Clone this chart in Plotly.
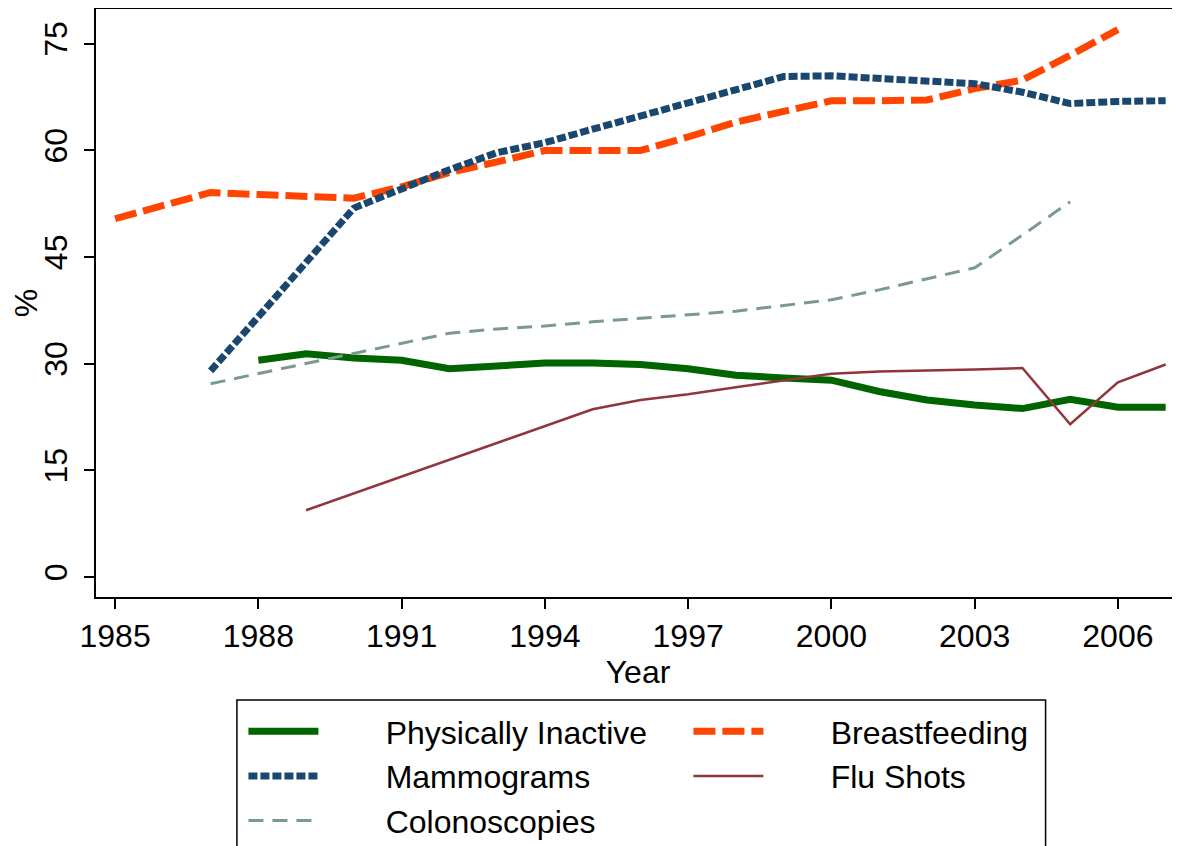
import plotly.graph_objects as go

# ── Data ──────────────────────────────────────────────────────────────────────

inactive_years = [1988, 1989, 1990, 1991, 1992, 1993, 1994, 1995, 1996, 1997,
                  1998, 1999, 2000, 2001, 2002, 2003, 2004, 2005, 2006, 2007]
inactive_vals = [30.5, 31.4, 30.8, 30.5, 29.3, 29.7, 30.1, 30.1, 29.9, 29.3,
                 28.4, 28.0, 27.7, 26.1, 24.9, 24.2, 23.7, 25.0, 23.9, 23.9]

breast_years = [1985, 1987, 1988, 1989, 1990, 1991, 1992, 1993, 1994, 1995,
                1996, 1997, 1998, 1999, 2000, 2001, 2002, 2003, 2004, 2005, 2006]
breast_vals = [50.4, 54.1, 53.8, 53.6, 53.3, 54.9, 56.9, 58.4, 60.0, 60.0,
               60.0, 61.9, 64.0, 65.5, 67.0, 67.0, 67.1, 68.7, 69.9, 73.4, 77.0]

mammo_years = [1987, 1988, 1989, 1990, 1991, 1992, 1993, 1994, 1995, 1996,
               1997, 1998, 1999, 2000, 2001, 2002, 2003, 2004, 2005, 2006, 2007]
mammo_vals = [29.0, 36.7, 44.2, 51.9, 54.6, 57.3, 59.7, 61.1, 63.0, 64.9,
              66.8, 68.6, 70.4, 70.5, 70.2, 69.8, 69.4, 68.2, 66.6, 66.9, 67.0]

flu_years = [1989, 1995, 1996, 1997, 1998, 1999, 2000, 2001, 2002, 2003,
             2004, 2005, 2006, 2007]
flu_vals = [9.4, 23.6, 24.9, 25.7, 26.7, 27.6, 28.6, 28.9, 29.0, 29.2,
            29.4, 21.5, 27.4, 29.9]

colon_years = [1987, 1989, 1992, 1993, 1994, 1995, 1996, 1997, 1998, 1999,
               2000, 2001, 2002, 2003, 2004, 2005]
colon_vals = [27.2, 30.0, 34.3, 34.9, 35.3, 35.9, 36.4, 36.9, 37.4, 38.2,
              39.0, 40.4, 42.0, 43.5, 48.1, 52.8]

x_ticks = [1985, 1988, 1991, 1994, 1997, 2000, 2003, 2006]
y_ticks = [0, 15, 30, 45, 60, 75]

# ── Styles ────────────────────────────────────────────────────────────────────

FONT = "Liberation Sans, Arial, sans-serif"
PAD = "\u00a0" * 7   # widen the gap between legend key and label (Stata look)

fig = go.Figure()
fig.add_trace(go.Scatter(x=inactive_years, y=inactive_vals, mode="lines",
                         name=PAD + "Physically Inactive",
                         line=dict(color="#006400", width=7)))
fig.add_trace(go.Scatter(x=breast_years, y=breast_vals, mode="lines",
                         name=PAD + "Breastfeeding",
                         line=dict(color="#FF4500", width=7, dash="22px,7px")))
fig.add_trace(go.Scatter(x=mammo_years, y=mammo_vals, mode="lines",
                         name=PAD + "Mammograms",
                         line=dict(color="#1A476F", width=7, dash="9px,3px")))
fig.add_trace(go.Scatter(x=flu_years, y=flu_vals, mode="lines",
                         name=PAD + "Flu Shots",
                         line=dict(color="#90353B", width=2.5)))
fig.add_trace(go.Scatter(x=colon_years, y=colon_vals, mode="lines",
                         name=PAD + "Colonoscopies",
                         line=dict(color="#7A9A8E", width=3, dash="15px,9px")))

# page body has an 8px margin, so the figure is offset by 8px on screen
fig.update_layout(
    width=1180, height=846,
    margin=dict(l=88, r=8, t=1, b=257, autoexpand=False),
    paper_bgcolor="white", plot_bgcolor="white",
    font=dict(family=FONT, color="black", size=32),
    xaxis=dict(
        range=[1984.6, 2007.3], tickvals=x_ticks,
        showgrid=False, zeroline=False,
        showline=True, linecolor="black", linewidth=2, mirror=True,
        ticks="outside", ticklen=10, tickwidth=1.5, tickcolor="black",
        tickfont=dict(size=32),
        title=dict(text="Year", font=dict(size=32), standoff=0),
    ),
    yaxis=dict(
        range=[-2.8, 79.9], tickvals=y_ticks,
        showgrid=False, zeroline=False,
        showline=True, linecolor="black", linewidth=2,
        ticks="outside", ticklen=10, tickwidth=1.5, tickcolor="black",
        tickangle=-90, tickfont=dict(size=32), ticklabelstandoff=4,
        title=dict(text="%", font=dict(size=32), standoff=10),
    ),
    legend=dict(
        orientation="h",
        x=0.136, xanchor="left", y=-0.182, yanchor="top",
        bgcolor="rgba(0,0,0,0)", borderwidth=0,
        font=dict(size=32),
        itemwidth=70, entrywidth=360, entrywidthmode="pixels",
        traceorder="normal",
    ),
    showlegend=True,
)

# legend frame
fig.add_shape(type="rect", xref="paper", yref="paper",
              x0=0.130, x1=0.876, y0=-0.175, y1=-0.6,
              line=dict(color="black", width=1.5), fillcolor="white",
              layer="below")

fig.write_html("out.html")
